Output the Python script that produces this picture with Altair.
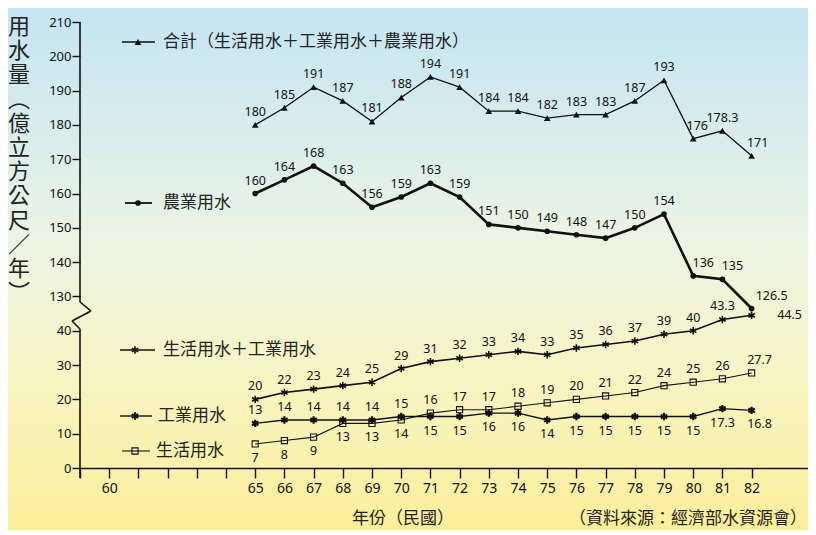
import altair as alt
import pandas as pd

# ---------------- data ----------------
years = list(range(65, 83))
total = [180, 185, 191, 187, 181, 188, 194, 191, 184, 184, 182, 183, 183, 187, 193, 176, 178.3, 171]
agri = [160, 164, 168, 163, 156, 159, 163, 159, 151, 150, 149, 148, 147, 150, 154, 136, 135, 126.5]
dom_ind = [20, 22, 23, 24, 25, 29, 31, 32, 33, 34, 33, 35, 36, 37, 39, 40, 43.3, 44.5]
ind = [13, 14, 14, 14, 14, 15, 15, 15, 16, 16, 14, 15, 15, 15, 15, 15, 17.3, 16.8]
dom = [7, 8, 9, 13, 13, 14, 16, 17, 17, 18, 19, 20, 21, 22, 24, 25, 26, 27.7]

series_keys = ["total", "agri", "dom_ind", "ind", "dom"]
series_names = ["合計（生活用水＋工業用水＋農業用水）", "農業用水", "生活用水＋工業用水", "工業用水", "生活用水"]
x_tick_values = list(range(59, 83))
y_title_chars = ["用", "水", "量", "︵", "億", "立", "方", "公", "尺", "／", "年", "︶"]
x_title = "年份（民國）"
source_text = "（資料來源：經濟部水資源會）"

# ---------------- layout ----------------
W, H = 728, 446
X_DOMAIN = [59, 59 + W / 29.2]
Y_DOMAIN = [0, 130]
PX_X = W / (X_DOMAIN[1] - X_DOMAIN[0])
PX_Y = H / (Y_DOMAIN[1] - Y_DOMAIN[0])
CJK = "Noto Sans CJK TC"
NUM = "Noto Sans"


def broken(v):
    # broken axis: 0-45 drawn as is, 130-210 drawn right above 40
    return v - 80 if v > 100 else v


values = {"total": total, "agri": agri, "dom_ind": dom_ind, "ind": ind, "dom": dom}
rows = []
for key in series_keys:
    for yr, v in zip(years, values[key]):
        t = broken(v)
        side = "above"
        if key == "dom" and yr <= 70:
            side = "below"
        if key == "ind" and yr >= 71:
            side = "below"
        dxp, dyp = 0, (-13 if side == "above" else 14)
        if key == "agri" and yr in (80, 81):
            dxp = 10
        if key == "total" and yr == 80:
            dxp = 4
        if yr == 82:
            if key == "agri":
                dxp, dyp = 20, -12
            elif key == "dom_ind":
                dxp, dyp = 38, 0
            elif key in ("dom", "ind"):
                dxp = 8
            elif key == "total":
                dxp = 6
        rows.append({
            "series": key, "year": yr, "value": v, "t": t,
            "label": f"{v:g}",
            "lx": yr + dxp / PX_X, "ly": t - dyp / PX_Y,
        })
df = pd.DataFrame(rows)

x_axis = alt.Axis(values=x_tick_values,
                  labelExpr="(datum.value == 60 || datum.value >= 65) ? datum.value : ''",
                  title=None, grid=False, tickSize=10, tickWidth=1.4, domainWidth=1.6,
                  domainColor="#111", tickColor="#111", labelColor="#111",
                  labelFont=NUM, labelFontSize=14, labelPadding=3, zindex=1)
y_axis = alt.Axis(values=list(range(0, 131, 10)),
                  labelExpr="datum.value >= 50 ? datum.value + 80 : datum.value",
                  title=None, grid=False, domain=False, tickSize=8, tickWidth=1.4,
                  tickColor="#111", labelColor="#111", labelFont=NUM, labelFontSize=13,
                  labelPadding=1, zindex=1)


def X(field):
    return alt.X(f"{field}:Q", scale=alt.Scale(domain=X_DOMAIN, nice=False, zero=False), axis=x_axis)


def Y(field):
    return alt.Y(f"{field}:Q", scale=alt.Scale(domain=Y_DOMAIN, nice=False, zero=False), axis=y_axis)


one = alt.Data(values=[{"a": 1}])

bg = alt.Chart(one).mark_rect(
    fill=alt.Gradient(gradient="linear", x1=0, x2=0, y1=0, y2=1,
                      stops=[alt.GradientStop(offset=0, color="#c4e5f3"),
                             alt.GradientStop(offset=0.45, color="#ecf4e4"),
                             alt.GradientStop(offset=0.7, color="#f6f5c4"),
                             alt.GradientStop(offset=1, color="#fcef9a")])
).encode(x=alt.value(-72), x2=alt.value(W), y=alt.value(-14), y2=alt.value(H + 62))

# y axis line with break symbol (decoration)
seg = [(0, 0, 0, 280), (0, 280, 11, 289), (11, 289, -8, 299), (-8, 299, 0, 307), (0, 307, 0, H + 10)]
axis_rules = [
    alt.Chart(one).mark_rule(color="#111", strokeWidth=1.6).encode(
        x=alt.value(a), y=alt.value(b), x2=alt.value(c), y2=alt.value(d))
    for a, b, c, d in seg
]

star_path = "M0,-1L0,1M-0.87,-0.5L0.87,0.5M-0.87,0.5L0.87,-0.5"
styles = {
    "total": dict(lw=1.3, shape="triangle-up", filled=True, size=45, sw=1),
    "agri": dict(lw=2.6, shape="circle", filled=True, size=32, sw=1),
    "dom_ind": dict(lw=1.6, shape=star_path, filled=False, size=55, sw=1.6),
    "ind": dict(lw=1.4, shape=star_path, filled=False, size=55, sw=2.2),
    "dom": dict(lw=1.1, shape="square", filled=False, size=38, sw=1.1),
}

layers = [bg] + axis_rules
for key in series_keys:
    s = styles[key]
    d = df[df.series == key]
    base = alt.Chart(d)
    layers.append(base.mark_line(color="#111", strokeWidth=s["lw"]).encode(x=X("year"), y=Y("t")))
    layers.append(base.mark_point(shape=s["shape"], filled=s["filled"], size=s["size"],
                                  color="#111", strokeWidth=s["sw"], opacity=1)
                  .encode(x=X("year"), y=Y("t")))
    layers.append(base.mark_text(font=NUM, fontSize=12.5, color="#111", baseline="middle")
                  .encode(x=X("lx"), y=Y("ly"), text="label:N"))

# inline legend entries (line + marker + text)
legend_pos = {
    "total": (42, 75, 58, 20, 83),
    "agri": (45, 72, 58, 181, 83),
    "dom_ind": (40, 75, 55, 328, 83),
    "ind": (40, 72, 55, 394, 78),
    "dom": (42, 70, 55, 429, 76),
}
for key, name in zip(series_keys, series_names):
    s = styles[key]
    x1, x2, xm, yy, xt = legend_pos[key]
    layers.append(alt.Chart(one).mark_rule(color="#111", strokeWidth=min(s["lw"], 1.8)).encode(
        x=alt.value(x1), x2=alt.value(x2), y=alt.value(yy)))
    layers.append(alt.Chart(one).mark_point(shape=s["shape"], filled=s["filled"], size=s["size"],
                                            color="#111", strokeWidth=s["sw"], opacity=1).encode(
        x=alt.value(xm), y=alt.value(yy)))
    layers.append(alt.Chart(one).mark_text(text=name, font=CJK, fontSize=17, color="#222",
                                           align="left", baseline="middle").encode(
        x=alt.value(xt), y=alt.value(yy)))

# titles
layers.append(alt.Chart(one).mark_text(text=y_title_chars, font=CJK, fontSize=22, color="#222",
                                       align="center", baseline="top", lineHeight=24.2).encode(
    x=alt.value(-61), y=alt.value(-5)))
layers.append(alt.Chart(one).mark_text(text=x_title, font=CJK, fontSize=17, color="#222",
                                       align="center", baseline="middle").encode(
    x=alt.value(323), y=alt.value(497)))
layers.append(alt.Chart(one).mark_text(text=source_text, font=CJK, fontSize=17, color="#222",
                                       align="right", baseline="middle").encode(
    x=alt.value(W - 1), y=alt.value(497)))

chart = alt.layer(*layers).properties(
    width=W, height=H,
    padding={"left": 72, "top": 14, "right": 0, "bottom": 62},
    autosize=alt.AutoSizeParams(type="none"),
).configure_view(stroke=None)

chart.save("out.html", embed_options={"renderer": "svg", "actions": False})
